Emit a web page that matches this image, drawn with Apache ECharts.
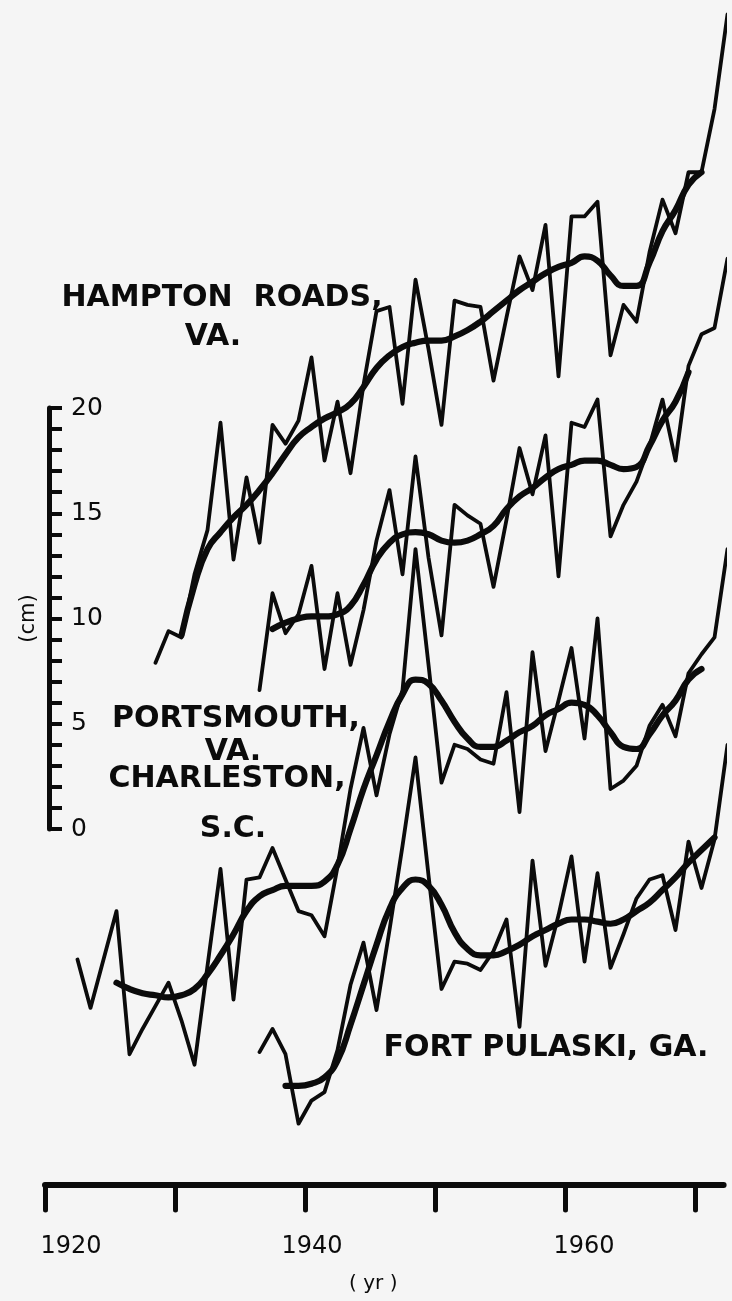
<!DOCTYPE html>
<html>
<head>
<meta charset="utf-8">
<script src="https://cdn.jsdelivr.net/npm/echarts@6/dist/echarts.min.js"></script>
<style>
html,body{margin:0;padding:0;background:#f5f5f5;}
#chart{width:732px;height:1301px;}
</style>
</head>
<body>
<div id="chart"></div>
<script>
// ---------------- DATA (cm; stations offset vertically as drawn) ----------------
const tickYears  = [1920, 1930, 1940, 1950, 1960, 1970];
const labelYears = [1920, 1940, 1960];
const scaleTicks = [0, 5, 10, 15, 20];

// Hampton Roads, VA.
const hamptonAnnualStart = 1928;
const hamptonAnnual = [7.9, 9.4, 9.1, 12.1, 14.2, 19.3, 12.8, 16.7, 13.6, 19.2,
  18.3, 19.4, 22.4, 17.5, 20.3, 16.9, 21.1, 24.6, 24.8, 20.2,
  26.1, 22.8, 19.2, 25.1, 24.9, 24.8, 21.3, 24.3, 27.2, 25.6,
  28.7, 21.5, 29.1, 29.1, 29.8, 22.5, 24.9, 24.1, 27.4, 29.9,
  28.3, 31.2, 31.2, 34.2, 38.7];
const hamptonSmoothStart = 1930;
const hamptonSmooth = [9.2, 11.6, 13.3, 14.1, 14.8, 15.4, 16.1, 16.9, 17.8, 18.6,
  19.1, 19.5, 19.8, 20.2, 21.0, 21.9, 22.5, 22.9, 23.1, 23.2,
  23.2, 23.4, 23.7, 24.1, 24.6, 25.1, 25.6, 26.0, 26.4, 26.7,
  26.9, 27.2, 27.0, 26.3, 25.8, 25.8, 26.9, 28.4, 29.4, 30.6, 31.2];

// Portsmouth, VA.
const portsmouthAnnualStart = 1936;
const portsmouthAnnual = [6.6, 11.2, 9.3, 10.2, 12.5, 7.6, 11.2, 7.8, 10.4, 13.7,
  16.1, 12.1, 17.7, 12.9, 9.2, 15.4, 14.9, 14.5, 11.5, 14.7,
  18.1, 15.9, 18.7, 12.0, 19.3, 19.1, 20.4, 13.9, 15.4, 16.5,
  18.2, 20.4, 17.5, 22.0, 23.5, 23.8, 27.1];
const portsmouthSmoothStart = 1937;
const portsmouthSmooth = [9.5, 9.8, 10.0, 10.1, 10.1, 10.2, 10.6, 11.6, 12.8, 13.6,
  14.0, 14.1, 14.0, 13.7, 13.6, 13.7, 14.0, 14.4, 15.2, 15.8,
  16.2, 16.7, 17.1, 17.3, 17.5, 17.5, 17.3, 17.1, 17.2, 18.2,
  19.4, 20.3, 21.7];

// Charleston, S.C.
const charlestonAnnualStart = 1922;
const charlestonAnnual = [-6.2, -8.5, -6.2, -3.9, -10.7, -9.5, -8.4, -7.3, -9.1, -11.2,
  -6.5, -1.9, -8.1, -2.4, -2.3, -0.9, -2.4, -3.9, -4.1, -5.1,
  -1.8, 1.9, 4.8, 1.6, 4.5, 6.6, 13.3, 7.8, 2.2, 4.0,
  3.8, 3.3, 3.1, 6.5, 0.8, 8.4, 3.7, 6.1, 8.6, 4.3,
  10.0, 1.9, 2.3, 3.0, 4.9, 5.9, 4.4, 7.4, 8.3, 9.1, 13.3];
const charlestonSmoothStart = 1925;
const charlestonSmooth = [-7.3, -7.6, -7.8, -7.9, -8.0, -7.9, -7.6, -6.9, -6.0, -5.0,
  -3.9, -3.2, -2.9, -2.7, -2.7, -2.7, -2.5, -1.7, 0.0, 1.9,
  3.5, 5.1, 6.4, 7.1, 6.9, 6.1, 5.1, 4.3, 3.9, 3.9,
  4.2, 4.6, 4.9, 5.4, 5.7, 6.0, 5.9, 5.4, 4.6, 3.9,
  3.8, 4.5, 5.4, 6.1, 7.1, 7.6];

// Fort Pulaski, GA.
const pulaskiAnnualStart = 1936;
const pulaskiAnnual = [-10.6, -9.5, -10.7, -14.0, -12.9, -12.5, -10.5, -7.4, -5.4, -8.6,
  -4.8, -0.8, 3.4, -2.2, -7.6, -6.3, -6.4, -6.7, -5.8, -4.3,
  -9.4, -1.5, -6.5, -4.1, -1.3, -6.3, -2.1, -6.6, -5.0, -3.3,
  -2.4, -2.2, -4.8, -0.6, -2.8, -0.5, 4.0];
const pulaskiSmoothStart = 1938;
const pulaskiSmooth = [-12.2, -12.2, -12.1, -11.8, -11.0, -9.3, -7.4, -5.5, -3.8, -2.8,
  -2.4, -2.7, -3.6, -4.9, -5.7, -6.0, -6.0, -5.8, -5.5, -5.1,
  -4.8, -4.5, -4.3, -4.3, -4.4, -4.5, -4.3, -3.9, -3.5, -2.9,
  -2.3, -1.6, -1.0, -0.4];

// annual means are drawn at mid-year
function toPairs(start, vals) { return vals.map((v, i) => [start + i + 0.5, v]); }

// ---------------- LAYOUT ----------------
const W = 732, H = 1301;
const AXIS_Y = 1185;      // x-axis line
const ZERO_Y = 829;       // scale-bar zero
const PX_PER_CM = 21.05;
const GRID_TOP = 6;
const X_MIN = 1920, X_MAX = 1972.2;
const yMin = -(AXIS_Y - ZERO_Y) / PX_PER_CM;
const yMax = (ZERO_Y - GRID_TOP) / PX_PER_CM;

const INK = '#0b0b0b';
const FONT = '"DejaVu Sans", "Noto Sans", sans-serif';

function thin(data) {
  return { type: 'line', data, xAxisIndex: 0, yAxisIndex: 0, symbol: 'none', showSymbol: false,
    clip: false, smooth: false, silent: true, z: 3,
    lineStyle: { color: INK, width: 3.8, join: 'round', cap: 'round' } };
}
function thick(data) {
  return { type: 'line', data, xAxisIndex: 0, yAxisIndex: 0, symbol: 'none', showSymbol: false,
    clip: false, smooth: 0.5, silent: true, z: 4,
    lineStyle: { color: INK, width: 6.2, join: 'round', cap: 'round' } };
}
function label(text, cx, cy) {
  return { type: 'text', x: cx, y: cy + 2, silent: true, z: 10,
    style: { text, fill: INK, font: 'bold 30px ' + FONT, textAlign: 'center', textVerticalAlign: 'middle' } };
}

const chart = echarts.init(document.getElementById('chart'), null, { renderer: 'canvas', width: W, height: H });

const labelStyleKey = { 1920: 'a', 1940: 'b', 1960: 'c' };

chart.setOption({
  backgroundColor: '#f5f5f5',
  animation: false,
  grid: [
    { left: 45, right: W - 45 - (X_MAX - X_MIN) * 13, top: GRID_TOP, bottom: H - AXIS_Y, outerBoundsMode: 'none', containLabel: false },
    { left: 49, width: 1, top: ZERO_Y - 20 * PX_PER_CM, height: 20 * PX_PER_CM, outerBoundsMode: 'none', containLabel: false }
  ],
  xAxis: [
    {
      type: 'value', gridIndex: 0, min: X_MIN, max: X_MAX, interval: 10,
      splitLine: { show: false },
      axisLine: { show: true, onZero: false, lineStyle: { color: INK, width: 6, cap: 'round' } },
      axisTick: { show: true, customValues: tickYears, length: 25, lineStyle: { color: INK, width: 5, cap: 'round' } },
      axisLabel: { show: true, customValues: labelYears, margin: 50, fontSize: 24, fontFamily: FONT, color: INK,
                   formatter: v => '{' + (labelStyleKey[v] || 'b') + '|' + v + '}',
                   rich: {
                     a: { fontSize: 24, fontFamily: FONT, color: INK, padding: [0, 0, 0, 52] },
                     b: { fontSize: 24, fontFamily: FONT, color: INK, padding: [0, 0, 0, 14] },
                     c: { fontSize: 24, fontFamily: FONT, color: INK, padding: [0, 0, 0, 38] }
                   } },
      name: '( yr )', nameLocation: 'middle', nameGap: 89,
      nameTextStyle: { fontSize: 20, fontFamily: FONT, color: INK, padding: [0, 22, 0, 0] }
    },
    { type: 'value', gridIndex: 1, show: false, min: 0, max: 1 }
  ],
  yAxis: [
    { type: 'value', gridIndex: 0, show: false, min: yMin, max: yMax, splitLine: { show: false } },
    {
      type: 'value', gridIndex: 1, min: 0, max: 20, interval: 5, position: 'left',
      splitLine: { show: false },
      axisLine: { show: true, onZero: false, lineStyle: { color: INK, width: 5 } },
      axisTick: { show: true, inside: true, length: 13, customValues: scaleTicks, lineStyle: { color: INK, width: 4 } },
      minorTick: { show: true, splitNumber: 5, length: 13, lineStyle: { color: INK, width: 4 } },
      axisLabel: { show: true, inside: true, margin: 22, fontSize: 25, fontFamily: FONT, color: INK,
                   customValues: scaleTicks, formatter: v => String(v) },
      name: '(cm)', nameLocation: 'middle', nameRotate: 90, nameGap: 10,
      nameTextStyle: { fontSize: 21, fontFamily: FONT, color: INK }
    }
  ],
  series: [
    thin(toPairs(hamptonAnnualStart, hamptonAnnual)),
    thick(toPairs(hamptonSmoothStart, hamptonSmooth)),
    thin(toPairs(portsmouthAnnualStart, portsmouthAnnual)),
    thick(toPairs(portsmouthSmoothStart, portsmouthSmooth)),
    thin(toPairs(charlestonAnnualStart, charlestonAnnual)),
    thick(toPairs(charlestonSmoothStart, charlestonSmooth)),
    thin(toPairs(pulaskiAnnualStart, pulaskiAnnual)),
    thick(toPairs(pulaskiSmoothStart, pulaskiSmooth))
  ],
  graphic: [
    label('HAMPTON  ROADS,', 222, 296),
    label('VA.', 213, 335),
    label('PORTSMOUTH,', 236, 717),
    label('VA.', 233, 750),
    label('CHARLESTON,', 227, 777),
    label('S.C.', 233, 827),
    label('FORT PULASKI, GA.', 546, 1046)
  ]
});
</script>
</body>
</html>
